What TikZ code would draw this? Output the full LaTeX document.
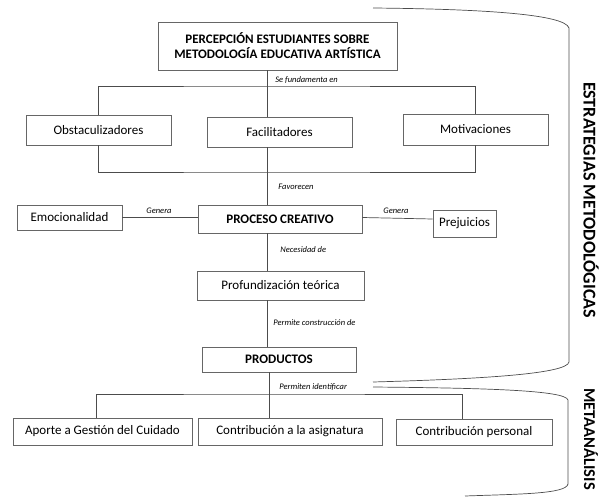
\documentclass[tikz,border=0pt]{standalone}
\usepackage{fontspec}
\setmainfont{Carlito}
\begin{document}
\begin{tikzpicture}[x=1pt,y=-1pt,
  line width=0.7pt, draw=black!70,
  box/.style={draw=black!60, inner sep=0pt, font=\fontsize{13}{15}\selectfont},
  bbox/.style={box, font=\fontsize{13}{15}\selectfont\bfseries, align=center},
  lbl/.style={anchor=west, inner sep=0pt, font=\fontsize{8.5}{10}\selectfont\itshape},
  side/.style={rotate=-90, inner sep=0pt, font=\fontsize{18}{20}\selectfont\bfseries}]
\useasboundingbox (0,0) rectangle (603,496);

\node[bbox, minimum width=239pt, minimum height=48pt] (perc) at (277.5,46)
  {PERCEPCIÓN ESTUDIANTES SOBRE\\METODOLOGÍA EDUCATIVA ARTÍSTICA};
\node[box, minimum width=145pt, minimum height=30pt] (obst) at (98.5,130) {Obstaculizadores};
\node[box, minimum width=145pt, minimum height=30pt] (facil) at (279.5,132) {Facilitadores};
\node[box, minimum width=145pt, minimum height=31pt] (motiv) at (475.5,129.5) {Motivaciones};

\node[bbox, minimum width=164pt, minimum height=28pt] (proc) at (280,219) {PROCESO CREATIVO};
\node[box, minimum width=105pt, minimum height=25pt] (emoc) at (69.5,217.5) {Emocionalidad};
\node[box, minimum width=63pt, minimum height=27pt] (prej) at (464.5,223.5) {Prejuicios};
\node[box, minimum width=167pt, minimum height=29pt] (prof) at (280.5,285.5) {Profundización teórica};
\node[bbox, minimum width=154pt, minimum height=25pt] (prod) at (279,359.5) {PRODUCTOS};

\node[box, minimum width=179pt, minimum height=27pt] (aporte) at (102.5,431.5) {Aporte a Gestión del Cuidado};
\node[box, minimum width=184pt, minimum height=27pt] (asig) at (290,431.5) {Contribución a la asignatura};
\node[box, minimum width=156pt, minimum height=26pt] (pers) at (474,432) {Contribución personal};

% tree lines
\coordinate (up) at (267,86);
\coordinate (dn) at (267,172);
\coordinate (pi) at (269,394);
\draw (perc.south -| up) -- (facil.north -| up);
\draw (obst.north) |- (up) -| (motiv.north);
\draw (obst.south) |- (dn) -| (motiv.south);
\draw (facil.south -| dn) -- (proc.north -| dn);
\draw (emoc.east) -- (emoc.east -| proc.west);
\draw (proc.east) ++(0,-1.5) -- (prej.west |- proc.east);
\draw (proc.south -| dn) -- (prof.north -| dn);
\draw (prof.south -| dn) -- (prod.north -| dn);
\draw (prod.south -| pi) -- (asig.north -| pi);
\draw (aporte.north -| 96,0) |- (pi) -| (pers.north -| 462,0);

\node[lbl] (lfund) at (275,80) {Se fundamenta en};
\node[lbl] (lfav) at (278,187) {Favorecen};
\node[lbl, anchor=center] (lgen1) at (159,211) {Genera};
\node[lbl, anchor=center] (lgen2) at (396,211) {Genera};
\node[lbl] (lnec) at (280,250) {Necesidad de};
\node[lbl] (lperm) at (273,323) {Permite construcción de};
\node[lbl] (lid) at (279,387) {Permiten identificar};

% brackets
\draw (373,8) .. controls (480,9) and (565,14) .. (569,28) -- (569,362)
  .. controls (567,374) and (480,379) .. (373,382);
\draw (373,387) .. controls (480,388) and (566,390) .. (568,400) -- (568,484)
  .. controls (566,494) and (520,494) .. (465,496);
\node[side] (estr) at (591,200) {ESTRATEGIAS METODOLÓGICAS};
\node[side, font=\fontsize{16.5}{18}\selectfont\bfseries] (meta) at (591,439) {METAANÁLISIS};
\end{tikzpicture}
\end{document}
